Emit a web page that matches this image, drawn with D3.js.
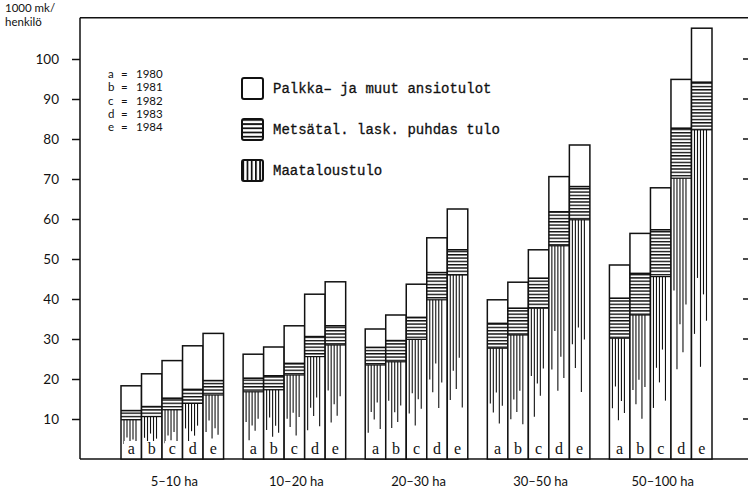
<!DOCTYPE html>
<html>
<head>
<meta charset="utf-8">
<script src="https://cdn.jsdelivr.net/npm/d3@7"></script>
<style>
  html, body { margin: 0; padding: 0; background: #fff; }
  svg { display: block; }
</style>
</head>
<body>
<div id="chart"></div>
<script>
// ---- data ----
const categories = ["5–10 ha", "10–20 ha", "20–30 ha", "30–50 ha", "50–100 ha"];
const years = ["a", "b", "c", "d", "e"];
const yearLabels = ["1980", "1981", "1982", "1983", "1984"];
const seriesNames = ["Palkka– ja muut ansiotulot", "Metsätal. lask. puhdas tulo", "Maataloustulo"];
const yTitle = ["1000 mk/", "henkilö"];
// Maataloustulo (bottom), per category, per year
const maatalous = [
  [9.8, 10.6, 12.3, 13.9, 16.0],
  [16.8, 17.3, 21.0, 25.6, 28.5],
  [23.5, 24.3, 29.9, 39.8, 46.0],
  [27.7, 31.0, 37.7, 53.3, 59.8],
  [30.2, 36.0, 45.6, 70.2, 82.3]
];
// Metsätal. lask. puhdas tulo (middle)
const metsa = [
  [2.3, 2.5, 2.9, 3.5, 3.6],
  [3.4, 3.5, 2.9, 5.0, 4.8],
  [4.4, 5.3, 5.5, 6.8, 6.3],
  [6.2, 6.7, 7.5, 8.5, 8.3],
  [10.0, 10.4, 11.7, 12.5, 11.9]
];
// Palkka- ja muut ansiotulot (top)
const palkka = [
  [6.2, 8.2, 9.4, 10.9, 11.8],
  [6.0, 7.2, 9.4, 10.6, 11.0],
  [4.6, 6.4, 8.3, 8.7, 10.2],
  [5.9, 6.5, 7.1, 8.8, 10.4],
  [8.3, 10.0, 10.5, 12.2, 13.5]
];
const yTicks = [10, 20, 30, 40, 50, 60, 70, 80, 90, 100];

// ---- layout ----
const W = 748, H = 493;
const svg = d3.select("#chart").append("svg").attr("width", W).attr("height", H);
const ink = "#111";

const defs = svg.append("defs");
function hPattern(id, step, thick) {
  const p = defs.append("pattern").attr("id", id)
    .attr("patternUnits", "userSpaceOnUse").attr("width", 6).attr("height", step);
  p.append("rect").attr("width", 6).attr("height", step).attr("fill", "#fff");
  p.append("rect").attr("width", 6).attr("height", thick).attr("fill", ink);
}
function vPattern(id, step, thick, ox) {
  const p = defs.append("pattern").attr("id", id)
    .attr("patternUnits", "userSpaceOnUse").attr("width", step).attr("height", 6)
    .attr("x", ox || 0);
  p.append("rect").attr("width", step).attr("height", 6).attr("fill", "#fff");
  p.append("rect").attr("width", thick).attr("height", 6).attr("fill", ink);
}
hPattern("hhatch", 3.3, 1.4);
hPattern("hhatchLeg", 4.2, 1.8);
vPattern("vhatchLeg", 4.2, 1.8, 244);

const x0 = d3.scaleBand().domain(categories).range([121, 712]).paddingInner(0.16).paddingOuter(0);
const x1 = d3.scaleBand().domain(years).range([0, x0.bandwidth()]).padding(0);
const y = d3.scaleLinear().domain([0, 100]).range([459, 59]);

const axisLeftX = 80, baseY = y(0), topY = y(110.3);

// frame
svg.append("line").attr("x1", axisLeftX).attr("x2", W).attr("y1", topY).attr("y2", topY)
  .attr("stroke", ink).attr("stroke-width", 1.5);
svg.append("line").attr("x1", axisLeftX).attr("x2", W).attr("y1", baseY).attr("y2", baseY)
  .attr("stroke", ink).attr("stroke-width", 1.5);

// left axis
const yAxis = d3.axisLeft(y).tickValues(yTicks).tickSize(8).tickPadding(13).tickFormat(d3.format("d"));
const ga = svg.append("g").attr("transform", `translate(${axisLeftX},0)`).call(yAxis);
ga.select(".domain").attr("d", `M0,${topY}V${baseY}`).attr("stroke", ink).attr("stroke-width", 1.5);
ga.selectAll(".tick line").attr("stroke", ink).attr("stroke-width", 1.5);
ga.selectAll(".tick text").attr("font-family", "Lato, 'DejaVu Sans', sans-serif")
  .attr("font-size", 13.5).attr("fill", ink);

// right ticks
svg.append("g").selectAll("line").data(yTicks).join("line")
  .attr("x1", 743).attr("x2", 748).attr("y1", d => y(d)).attr("y2", d => y(d))
  .attr("stroke", ink).attr("stroke-width", 1.5);

// y title (two separate lines)
svg.append("g").selectAll("text").data(yTitle).join("text")
  .attr("x", 5).attr("y", (d, i) => 12 + i * 14)
  .attr("font-family", "Lato, 'DejaVu Sans', sans-serif")
  .attr("font-size", 11.5).attr("fill", ink).text(d => d);

// bars
const fracs = [0.62, 0.45, 0.72, 0.5, 0.58, 0.4, 0.68, 0.52];
const groups = svg.append("g").selectAll("g").data(categories).join("g")
  .attr("transform", d => `translate(${x0(d)},0)`);

groups.each(function(cat, ci) {
  const g = d3.select(this);
  years.forEach((yr, yi) => {
    const bx = x1(yr), bw = x1.bandwidth();
    const m = maatalous[ci][yi], f = metsa[ci][yi], p = palkka[ci][yi];
    const yM = y(m), yF = y(m + f), yP = y(m + f + p);
    const bar = g.append("g");
    bar.append("rect").attr("x", bx).attr("y", yP).attr("width", bw).attr("height", baseY - yP)
      .attr("fill", "#fff");
    bar.append("rect").attr("x", bx).attr("y", yF).attr("width", bw).attr("height", yM - yF)
      .attr("fill", "url(#hhatch)");
    const segH = baseY - yM;
    const nLines = Math.floor((bw - 4) / 3);
    for (let k = 0; k < nLines; k++) {
      const lx = bx + 3 + k * 3;
      const len = segH * fracs[(k + yi * 3 + ci) % fracs.length];
      bar.append("line").attr("x1", lx).attr("x2", lx).attr("y1", yM).attr("y2", yM + len)
        .attr("stroke", ink).attr("stroke-width", 1.1);
    }
    bar.append("line").attr("x1", bx).attr("x2", bx + bw).attr("y1", yF).attr("y2", yF)
      .attr("stroke", ink).attr("stroke-width", 1.6);
    bar.append("line").attr("x1", bx).attr("x2", bx + bw).attr("y1", yM).attr("y2", yM)
      .attr("stroke", ink).attr("stroke-width", 1.2);
    bar.append("rect").attr("x", bx).attr("y", yP).attr("width", bw).attr("height", baseY - yP)
      .attr("fill", "none").attr("stroke", ink).attr("stroke-width", 1.5);
    bar.append("rect").attr("x", bx + 3).attr("y", baseY - 18).attr("width", bw - 6).attr("height", 16)
      .attr("fill", "#fff");
    bar.append("text").attr("x", bx + bw / 2).attr("y", baseY - 5).attr("text-anchor", "middle")
      .attr("font-family", "'Liberation Serif', 'DejaVu Serif', serif")
      .attr("font-size", 16).attr("fill", ink).text(yr);
  });
});

// category labels
svg.append("g").selectAll("text").data(categories).join("text")
  .attr("x", d => x0(d) + x0.bandwidth() / 2 + 2).attr("y", 486).attr("text-anchor", "middle")
  .attr("font-family", "Lato, 'DejaVu Sans', sans-serif").attr("font-size", 13).attr("fill", ink)
  .text(d => d);

// year legend (one text per line)
const yl = svg.append("g").selectAll("text").data(years).join("text")
  .attr("y", (d, i) => 78 + i * 13.3)
  .attr("font-family", "Lato, 'DejaVu Sans', sans-serif").attr("font-size", 11.5).attr("fill", ink);
yl.append("tspan").attr("x", 108).text(d => d);
yl.append("tspan").attr("x", 121).text("=");
yl.append("tspan").attr("x", 136).text((d, i) => yearLabels[i]);

// series legend
const legFills = ["#fff", "url(#hhatchLeg)", "url(#vhatchLeg)"];
const lg = svg.append("g").selectAll("g").data(seriesNames).join("g")
  .attr("transform", (d, i) => `translate(242,${78 + i * 41})`);
lg.append("rect").attr("width", 21).attr("height", 21).attr("rx", 2)
  .attr("fill", (d, i) => legFills[i]).attr("stroke", ink).attr("stroke-width", 2);
lg.append("text").attr("x", 31).attr("y", 15)
  .attr("font-family", "'Liberation Mono', 'DejaVu Sans Mono', monospace")
  .attr("font-size", 14).attr("fill", ink).attr("stroke", ink).attr("stroke-width", 0.3)
  .text(d => d);
</script>
</body>
</html>
